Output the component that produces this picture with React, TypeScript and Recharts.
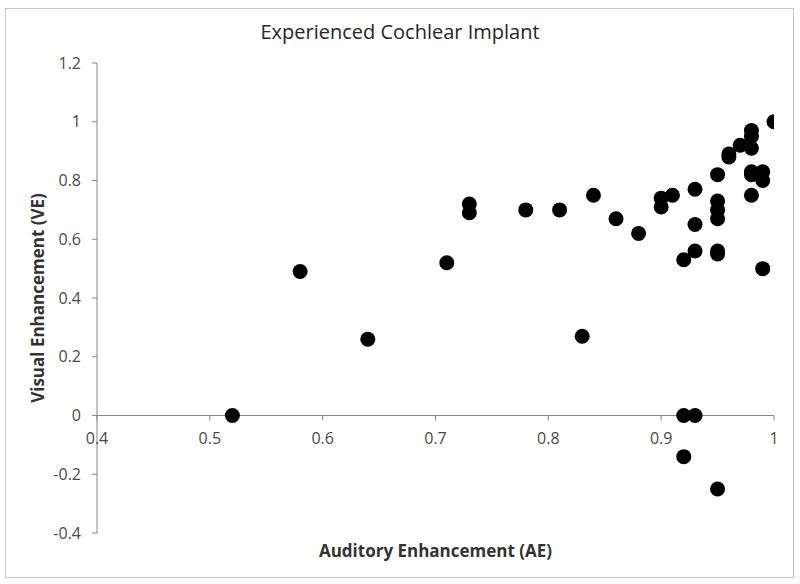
import React from 'react';
import { ScatterChart, Scatter, XAxis, YAxis, ReferenceLine } from 'recharts';

// Experienced cochlear implant users: auditory vs visual enhancement
const aeValues = [
  0.52, 0.58, 0.64, 0.71, 0.73, 0.73, 0.78, 0.81, 0.83, 0.84, 0.86, 0.88,
  0.9, 0.9, 0.91, 0.92, 0.92, 0.92, 0.93, 0.93, 0.93, 0.93, 0.95, 0.95,
  0.95, 0.95, 0.95, 0.95, 0.95, 0.96, 0.96, 0.97, 0.98, 0.98, 0.98, 0.98,
  0.98, 0.98, 0.99, 0.99, 0.99, 1.0,
];
const veValues = [
  0, 0.49, 0.26, 0.52, 0.72, 0.69, 0.7, 0.7, 0.27, 0.75, 0.67, 0.62,
  0.74, 0.71, 0.75, 0.53, 0, -0.14, 0.77, 0.65, 0.56, 0, 0.82, 0.73,
  0.7, 0.67, 0.56, 0.55, -0.25, 0.89, 0.88, 0.92, 0.97, 0.95, 0.91, 0.83,
  0.82, 0.75, 0.83, 0.8, 0.5, 1.0,
];
const xTicks = [0.4, 0.5, 0.6, 0.7, 0.8, 0.9, 1];
const yTicks = [-0.4, -0.2, 0, 0.2, 0.4, 0.6, 0.8, 1, 1.2];

const data = aeValues.map((ae, i) => ({ ae, ve: veValues[i] }));

const W = 800;
const H = 584;
const margin = { top: 63, right: 26, bottom: 0, left: 0 };
const X_AXIS_H = 51;
const Y_AXIS_W = 97;
const FONT = '"Open Sans", "Noto Sans", sans-serif';
const AXIS_COLOR = '#868686';
const TEXT_COLOR = '#4a4a4a';

// the horizontal axis crosses at ve = 0, not at the bottom of the plot
const plotH = H - margin.top - margin.bottom - X_AXIS_H;
const yMin = yTicks[0];
const yMax = yTicks[yTicks.length - 1];
const zeroY = margin.top + ((yMax - 0) / (yMax - yMin)) * plotH;

const XTick = (props: any) => {
  const { x, payload } = props;
  return (
    <g>
      <line x1={x} x2={x} y1={zeroY} y2={zeroY + 5} stroke={AXIS_COLOR} />
      <text x={x} y={zeroY + 28} textAnchor="middle" fill={TEXT_COLOR} fontSize={16} fontFamily={FONT}>
        {payload.value}
      </text>
    </g>
  );
};

const Dot = (props: any) => <circle cx={props.cx} cy={props.cy} r={7.5} fill="#000" />;

export default function App() {
  return (
    <div style={{ position: 'absolute', left: 0, top: 0, width: W, height: H, background: '#fff' }}>
      <div
        style={{
          position: 'absolute',
          left: 5,
          top: 8,
          width: 787,
          height: 568,
          border: '1px solid #c6c6c6',
        }}
      />
      <div
        style={{
          position: 'absolute',
          top: 18,
          width: W,
          textAlign: 'center',
          fontFamily: FONT,
          fontSize: 20,
          color: '#262626',
        }}
      >
        Experienced Cochlear Implant
      </div>
      <ScatterChart width={W} height={H} margin={margin} style={{ position: 'absolute', left: 0, top: 0 }}>
        <XAxis
          type="number"
          dataKey="ae"
          domain={[0.4, 1]}
          ticks={xTicks}
          height={X_AXIS_H}
          axisLine={false}
          tickLine={false}
          tick={<XTick />}
          interval={0}
          allowDataOverflow
          label={{
            value: 'Auditory Enhancement (AE)',
            position: 'insideBottom',
            offset: 27,
            style: { fontFamily: FONT, fontSize: 17, fontWeight: 700, fill: '#333' },
          }}
        />
        <YAxis
          type="number"
          dataKey="ve"
          domain={[yMin, yMax]}
          ticks={yTicks}
          width={Y_AXIS_W}
          stroke={AXIS_COLOR}
          tickSize={5}
          tickMargin={11}
          interval={0}
          tick={{ fill: TEXT_COLOR, fontSize: 16, fontFamily: FONT }}
          label={{
            value: 'Visual Enhancement (VE)',
            angle: -90,
            position: 'insideLeft',
            offset: 38,
            style: { textAnchor: 'middle', fontFamily: FONT, fontSize: 17, fontWeight: 700, fill: '#333' },
          }}
        />
        <ReferenceLine y={0} stroke={AXIS_COLOR} />
        <Scatter data={data} shape={<Dot />} isAnimationActive={false} />
      </ScatterChart>
    </div>
  );
}
